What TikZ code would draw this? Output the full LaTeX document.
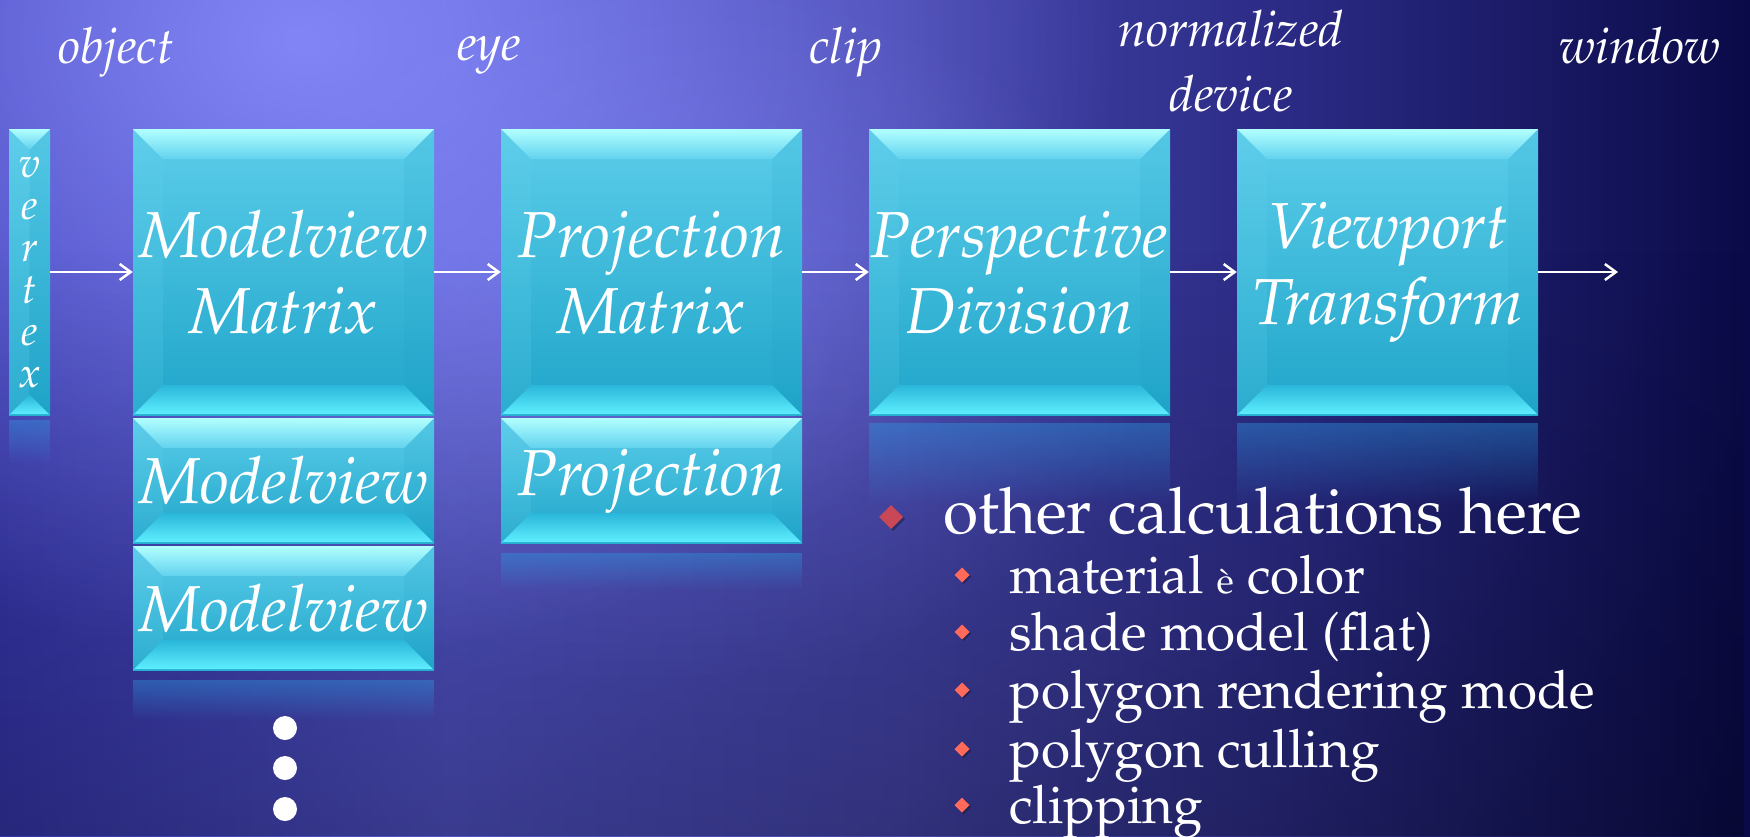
\documentclass[tikz,border=0pt]{standalone}
\usepackage[T1]{fontenc}
\renewcommand{\rmdefault}{ppl}
\usetikzlibrary{fadings,arrows.meta}
\definecolor{bgA}{HTML}{3636AC}
\definecolor{bgB}{HTML}{5052C6}
\definecolor{bgC}{HTML}{4444AA}
\definecolor{bgD}{HTML}{2A2A84}
\definecolor{bgE}{HTML}{0A0A48}
\definecolor{glow}{HTML}{8C90FF}
\definecolor{faceT}{HTML}{5CCDEA}
\definecolor{faceB}{HTML}{1FA5C9}
\definecolor{topA}{HTML}{B2FFFF}
\definecolor{topB}{HTML}{62D2EE}
\definecolor{botA}{HTML}{2AB6DA}
\definecolor{botB}{HTML}{60F0FF}
\definecolor{sideL}{HTML}{6AD2EE}
\definecolor{sideR}{HTML}{1898C0}
\definecolor{reflc}{HTML}{2C9AE0}
\definecolor{bulA}{HTML}{C84858}
\definecolor{bulB}{HTML}{FF6A5A}
\tikzfading[name=reflfade, top color=transparent!0, bottom color=transparent!100]
\tikzfading[name=glowfade, inner color=transparent!0, outer color=transparent!100]
\tikzfading[name=downfade, top color=transparent!100, bottom color=transparent!0]
\newcommand{\bevbox}[5]{%
 \begin{scope}
 \pgfmathsetmacro\xa{#1}\pgfmathsetmacro\ya{-#2}%
 \pgfmathsetmacro\xb{#3}\pgfmathsetmacro\yb{-#4}%
 \pgfmathsetmacro\bv{#5}%
 \shade[top color=faceT, bottom color=faceB] (\xa,\ya) rectangle (\xb,\yb);
 \fill[sideL, opacity=.18] (\xa,\ya) -- (\xa+\bv,\ya-\bv) -- (\xa+\bv,\yb+\bv) -- (\xa,\yb) -- cycle;
 \fill[sideR, opacity=.10] (\xb,\ya) -- (\xb-\bv,\ya-\bv) -- (\xb-\bv,\yb+\bv) -- (\xb,\yb) -- cycle;
 \shade[top color=topA, bottom color=topB] (\xa,\ya) -- (\xb,\ya) -- (\xb-\bv,\ya-\bv) -- (\xa+\bv,\ya-\bv) -- cycle;
 \shade[top color=botA, bottom color=botB] (\xa+\bv,\yb+\bv) -- (\xb-\bv,\yb+\bv) -- (\xb,\yb) -- (\xa,\yb) -- cycle;
 \draw[botA, line width=1pt] (\xa+.5,\yb+.5) -- (\xb-.5,\yb+.5);
 \end{scope}}
\newcommand{\refl}[4]{\fill[reflc, opacity=.42, path fading=reflfade] (#1,-#2) rectangle (#3,-#4);}
\tikzset{
 boxtext/.style={shape=rectangle, inner sep=0pt, text=white, align=center,
   font=\fontsize{65}{76}\selectfont\itshape},
 vtxtext/.style={shape=rectangle, inner sep=0pt, text=white, align=center,
   font=\fontsize{42}{42}\selectfont\itshape},
 lab/.style={inner sep=0pt, text=white, align=center, font=\fontsize{50}{65}\selectfont\itshape},
 arr/.style={draw=white, line width=2.5pt, -{Straight Barb[length=11pt, width=16pt, line width=2.5pt]}},
 mainitem/.style={anchor=base west, inner sep=0pt, text=white, font=\fontsize{64}{70}\selectfont},
 subitem/.style={anchor=base west, inner sep=0pt, text=white, font=\fontsize{53}{60}\selectfont},
}
\begin{document}
\begin{tikzpicture}[x=1pt,y=1pt]
\useasboundingbox (0,0) rectangle (1750,-836);
% background
\shade[left color=bgA, right color=bgB] (0,0) rectangle (450,-836);
\shade[left color=bgB, right color=bgC] (450,0) rectangle (900,-836);
\shade[left color=bgC, right color=bgD] (900,0) rectangle (1300,-836);
\shade[left color=bgD, right color=bgE] (1300,0) rectangle (1750.5,-836);
\begin{scope}
\clip (0,0) rectangle (1750,-836);
\fill[glow, opacity=.85, path fading=glowfade] (300,-40) ellipse (820 and 620);
\fill[glow, opacity=.35, path fading=glowfade] (640,-330) ellipse (520 and 360);
\fill[black, opacity=.28, path fading=downfade] (0,-250) rectangle (1750,-836);
\end{scope}
% reflections
\refl{9}{420}{50}{465}
\refl{133}{680}{434}{720}
\refl{501}{553}{802}{590}
\refl{869}{423}{1170}{505}
\refl{1237}{423}{1538}{505}
% boxes
\bevbox{9}{129}{50}{415}{20}
\bevbox{133}{129}{434}{415}{30}
\bevbox{133}{418}{434}{543}{30}
\bevbox{133}{546}{434}{670}{30}
\bevbox{501}{129}{802}{415}{30}
\bevbox{501}{418}{802}{543}{30}
\bevbox{869}{129}{1170}{415}{30}
\bevbox{1237}{129}{1538}{415}{30}
% box texts
\node[vtxtext, minimum width=41pt, minimum height=286pt] (vtx) at (29.5,-272) {v\\e\\r\\t\\e\\x};
\node[boxtext, minimum width=301pt, minimum height=286pt] (mvm) at (283.5,-272) {Modelview\\Matrix};
\node[boxtext, minimum width=301pt, minimum height=125pt] (mv2) at (283.5,-480.5) {Modelview};
\node[boxtext, minimum width=301pt, minimum height=124pt] (mv3) at (283.5,-608) {Modelview};
\node[boxtext, minimum width=301pt, minimum height=286pt] (pjm) at (651.5,-272) {Projection\\Matrix};
\node[boxtext, minimum width=301pt, minimum height=125pt] (pj2) at (651.5,-480.5) {Projection};
\node[boxtext, minimum width=301pt, minimum height=286pt] (pd) at (1019.5,-272) {Perspective\\Division};
\node[boxtext, minimum width=301pt, minimum height=286pt] (vp) at (1387.5,-272) {Viewport\\Transform};
\coordinate (out) at (1618,-272);
% arrows
\draw[arr] (vtx.east) -- (mvm.west);
\draw[arr] (mvm.east) -- (pjm.west);
\draw[arr] (pjm.east) -- (pd.west);
\draw[arr] (pd.east) -- (vp.west);
\draw[arr] (vp.east) -- (out);
% labels
\node[lab, anchor=base] (lobj) at (116,-63) {object};
\node[lab, anchor=base] (leye) at (489,-60) {eye};
\node[lab, anchor=base] (lclip) at (846,-63) {clip};
\node[lab, anchor=north] (lndc) at (1231,-10) {normalized\\device};
\node[lab, anchor=base] (lwin) at (1640,-63) {window};
% dots
\fill[white] (285,-728) circle (12);
\fill[white] (285,-768) circle (12);
\fill[white] (285,-809) circle (12);
% bullets
\fill[black, opacity=.3] (893,-507) -- (905,-519) -- (893,-531) -- (881,-519) -- cycle;
\fill[bulA] (891,-505) -- (903,-517) -- (891,-529) -- (879,-517) -- cycle;
\node[mainitem] (t0) at (943,-533) {other calculations here};
\foreach \yy/\tt [count=\i] in {593/{material {\fontsize{36}{40}\selectfont\`e} color},650/{shade model (flat)},708/{polygon rendering mode},767/{polygon culling},823/{clipping}}{
  \fill[black, opacity=.3] (963.5,-\yy+24) -- (971,-\yy+16.5) -- (963.5,-\yy+9) -- (956,-\yy+16.5) -- cycle;
  \fill[bulB] (962,-\yy+25.5) -- (969.5,-\yy+18) -- (962,-\yy+10.5) -- (954.5,-\yy+18) -- cycle;
  \node[subitem] (t\i) at (1009,-\yy) {\tt};
}
\end{tikzpicture}
\end{document}
